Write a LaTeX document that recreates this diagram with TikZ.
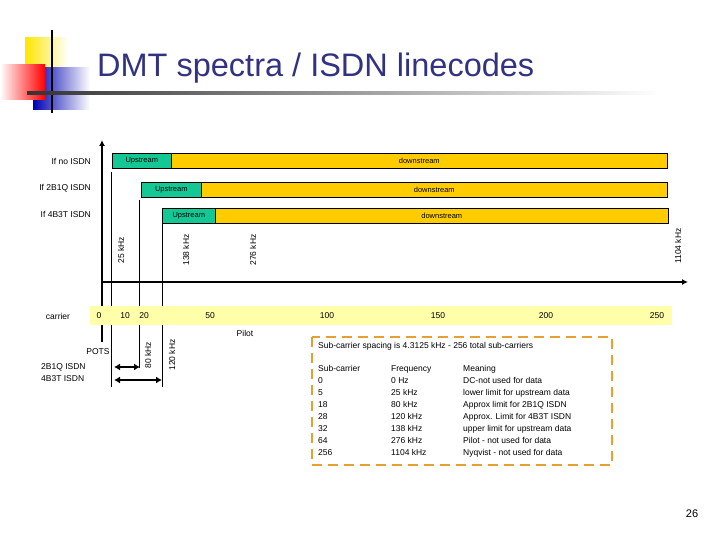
\documentclass[tikz,border=0pt]{standalone}
\usepackage{fontspec}
\setmainfont{Liberation Sans}
\usetikzlibrary{arrows.meta}
\definecolor{ttl}{RGB}{50,50,130}
\definecolor{up}{RGB}{20,200,150}
\definecolor{down}{RGB}{255,204,0}
\definecolor{band}{RGB}{255,255,170}
\definecolor{boxorange}{RGB}{230,160,50}
\begin{document}
\begin{tikzpicture}[x=1pt,y=-1pt,
  lbl/.style={font=\fontsize{8.5}{9}\selectfont,inner sep=0pt},
  rot/.style={lbl,rotate=90},
  bar/.style={draw=black,line width=0.6pt,minimum height=15pt,anchor=north west,inner sep=0pt,font=\fontsize{7.5}{9}\selectfont},
  vl/.style={line width=0.8pt},
  dbl/.style={line width=2pt,{Latex[length=6pt,width=7pt]}-{Latex[length=6pt,width=7pt]}}]
\useasboundingbox (0,0) rectangle (720,540);
% logo
\shade[left color=yellow!80!orange,right color=white] (25,38) rectangle (68,78);
\shade[left color=blue!70!black,right color=white] (33,68) rectangle (90,110);
\shade[left color=white,right color=red] (0,65) rectangle (45,100);
\draw[line width=1.2pt] (52,30) -- (52,113);
\shade[left color=black!80,right color=white] (27,92) rectangle (660,94.5);
\node[font=\fontsize{32.5}{34}\selectfont,text=ttl,anchor=west,inner sep=0pt] (title) at (97,68) {DMT spectra / ISDN linecodes};
% axes
\coordinate (o) at (102,282);
\coordinate (ytop) at (102,140);
\coordinate (xend) at (688,282);
\coordinate (ybot) at (102,342);
\draw[line width=2pt,-{Latex[length=6pt,width=6pt]}] (ybot) -- (ytop);
\draw[line width=2pt,-{Latex[length=6pt,width=6pt]}] (o) -- (xend);
% bars
\node[bar,fill=up,minimum width=59pt] (u1) at (112,153) {Upstream};
\node[bar,fill=down,minimum width=496pt] (d1) at (171,153) {downstream};
\node[bar,fill=up,minimum width=60pt] (u2) at (141,182) {Upstream};
\node[bar,fill=down,minimum width=466pt] (d2) at (201,182) {downstream};
\node[bar,fill=up,minimum width=53pt] (u3) at (162,208) {Upstream};
\node[bar,fill=down,minimum width=453pt] (d3) at (215,208) {downstream};
\node[lbl,anchor=east] (r1) at (91,161) {If no ISDN};
\node[lbl,anchor=east] (r2) at (91,188) {If 2B1Q ISDN};
\node[lbl,anchor=east] (r3) at (91,214) {If 4B3T ISDN};
% vertical markers
\coordinate (v1t) at (111,172); \coordinate (v1b) at (111,387);
\coordinate (v2t) at (139,200); \coordinate (v2b) at (139,368);
\coordinate (v3b) at (162,387);
\draw[vl] (v1t) -- (v1b);
\draw[vl] (v2t) -- (v2b);
\draw[vl] (u3.south west) -- (v3b);
\node[rot] (k25) at (121,250) {25 kHz};
\node[rot] (k138) at (186,250) {138 kHz};
\node[rot] (k276) at (253,250) {276 kHz};
\node[rot] (k1104) at (678,246) {1104 kHz};
% band
\fill[band] (90,306) rectangle (672,325);
\node[lbl] (carrier) at (58,316) {carrier};
\node[lbl] (c0) at (99,316) {0};
\node[lbl] (c10) at (125,316) {10};
\node[lbl] (c20) at (144,316) {20};
\node[lbl] (c50) at (210,316) {50};
\node[lbl] (c100) at (327,316) {100};
\node[lbl] (c150) at (438,316) {150};
\node[lbl] (c200) at (546,316) {200};
\node[lbl] (c250) at (657,316) {250};
\node[lbl] (pilot) at (245,333) {Pilot};
\node[lbl] (pots) at (98,352) {POTS};
\node[rot] (k80) at (148,355) {80 kHz};
\node[rot] (k120) at (172,355) {120 kHz};
\node[lbl,anchor=west] (i2) at (41,367) {2B1Q ISDN};
\node[lbl,anchor=west] (i4) at (41,379) {4B3T ISDN};
\coordinate (a1l) at (114,367); \coordinate (a1r) at (140,367);
\coordinate (a2l) at (114,380); \coordinate (a2r) at (162,380);
\draw[dbl] (a1l) -- (a1r);
\draw[dbl] (a2l) -- (a2r);
% table
\draw[boxorange,line width=2pt,dash pattern=on 10pt off 6pt] (312,337) rectangle (612,465);
\node[lbl,anchor=west] (sp) at (318,346) {Sub-carrier spacing is 4.3125 kHz - 256 total sub-carriers};
\node[inner sep=0pt,anchor=north west,font=\fontsize{8.5}{12}\selectfont] (tab) at (318,363) {\begin{tabular}{@{}p{73pt}@{}p{72pt}@{}l@{}}
Sub-carrier & Frequency & Meaning\\
0 & 0 Hz & DC-not used for data\\
5 & 25 kHz & lower limit for upstream data\\
18 & 80 kHz & Approx limit for 2B1Q ISDN\\
28 & 120 kHz & Approx. Limit for 4B3T ISDN\\
32 & 138 kHz & upper limit for upstream data\\
64 & 276 kHz & Pilot - not used for data\\
256 & 1104 kHz & Nyqvist - not used for data
\end{tabular}};
\node[font=\fontsize{11}{12}\selectfont,inner sep=0pt] (pg) at (692,514) {26};
\end{tikzpicture}
\end{document}
